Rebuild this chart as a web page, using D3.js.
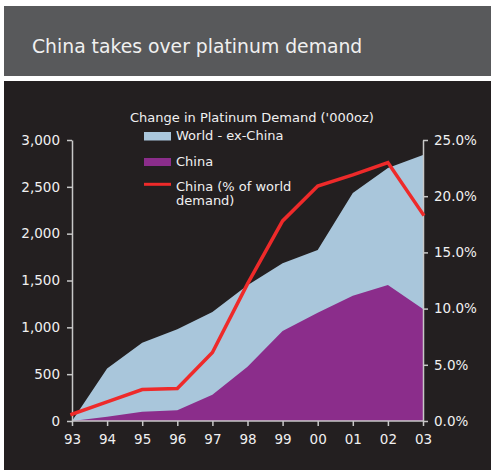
<!DOCTYPE html>
<html>
<head>
<meta charset="utf-8">
<script src="https://cdn.jsdelivr.net/npm/d3@7"></script>
<style>
  html, body { margin: 0; padding: 0; background: #ffffff; }
  svg { display: block; font-family: "DejaVu Sans", Verdana, sans-serif; }
</style>
</head>
<body>
<svg id="chart" width="491" height="470"></svg>
<script>
// Years on the x axis
const years = ["93", "94", "95", "96", "97", "98", "99", "00", "01", "02", "03"];
// Cumulative change in world platinum demand ('000oz), top of the light blue area
const worldTotal = [0, 560, 835, 980, 1165, 1450, 1685, 1825, 2435, 2700, 2840];
// Cumulative change in Chinese demand ('000oz)
const chinaDemand = [0, 45, 100, 115, 280, 580, 962, 1155, 1338, 1452, 1196];
// China's share of world demand (%)
const chinaShare = [0.6, 1.7, 2.8, 2.9, 6.1, 12.2, 17.8, 20.9, 21.9, 23.0, 18.4];

const leftTicks = [0, 500, 1000, 1500, 2000, 2500, 3000];
const rightTicks = [0, 5, 10, 15, 20, 25];

const colors = {
  header: "#58595b",
  panel: "#231f20",
  world: "#a9c6db",
  china: "#8b2d8b",
  share: "#ee2a2a",
  axis: "#c8c8c8",
  text: "#f0f0f0"
};

const fontFamily = "DejaVu Sans, Verdana, sans-serif";
const svg = d3.select("#chart");

// Title banner
svg.append("rect").attr("x", 4).attr("y", 6).attr("width", 487).attr("height", 70)
  .attr("fill", colors.header);
svg.append("text").attr("x", 32).attr("y", 53)
  .attr("fill", colors.text).attr("font-size", 18.8)
  .text("China takes over platinum demand");

// Chart panel
svg.append("rect").attr("x", 4).attr("y", 81).attr("width", 487).attr("height", 389)
  .attr("fill", colors.panel);

const plot = { left: 72, right: 423, top: 140, bottom: 421 };

const x = d3.scalePoint().domain(years).range([plot.left, plot.right]);
const y = d3.scaleLinear().domain([0, 3000]).range([plot.bottom, plot.top]);
const yPct = d3.scaleLinear().domain([0, 25]).range([plot.bottom, plot.top]);

// Areas: world total first, China drawn over it
const demandArea = d3.area()
  .x((d, i) => x(years[i]))
  .y0(y(0))
  .y1(d => y(d));
svg.append("path").datum(worldTotal)
  .attr("d", demandArea).attr("fill", colors.world);
svg.append("path").datum(chinaDemand)
  .attr("d", demandArea).attr("fill", colors.china);

// Axes
function styleAxis(g) {
  g.select(".domain").attr("stroke", colors.axis).attr("stroke-width", 1.5);
  g.selectAll(".tick line").attr("stroke", colors.axis).attr("stroke-width", 1.5);
  g.selectAll(".tick text").attr("fill", colors.text)
    .attr("font-size", 13.5).attr("font-family", fontFamily);
}

svg.append("g")
  .attr("transform", `translate(${plot.left},0)`)
  .call(d3.axisLeft(y).tickValues(leftTicks).tickSize(5).tickPadding(7)
    .tickSizeOuter(0).tickFormat(d3.format(",")))
  .call(styleAxis);

svg.append("g")
  .attr("transform", `translate(${plot.right},0)`)
  .call(d3.axisRight(yPct).tickValues(rightTicks).tickSize(5).tickPadding(6)
    .tickSizeOuter(0).tickFormat(d => d3.format(".1f")(d) + "%"))
  .call(styleAxis);

svg.append("g")
  .attr("transform", `translate(0,${plot.bottom})`)
  .call(d3.axisBottom(x).tickSize(5).tickPadding(8).tickSizeOuter(0))
  .call(styleAxis)
  .call(g => g.select(".domain").attr("d", `M${plot.left},0H${plot.right}`));

// China share line
const shareLine = d3.line()
  .x((d, i) => x(years[i]))
  .y(d => yPct(d));
svg.append("path").datum(chinaShare)
  .attr("d", shareLine)
  .attr("fill", "none")
  .attr("stroke", colors.share)
  .attr("stroke-width", 3.5)
  .attr("stroke-linejoin", "miter")
  .attr("stroke-linecap", "square");

// Legend
const legend = svg.append("g").attr("font-size", 13).attr("fill", colors.text);
legend.append("text").attr("x", 130).attr("y", 122)
  .text("Change in Platinum Demand ('000oz)");

legend.append("rect").attr("x", 144).attr("y", 132).attr("width", 27).attr("height", 8.5)
  .attr("fill", colors.world);
legend.append("text").attr("x", 176).attr("y", 140).text("World - ex-China");

legend.append("rect").attr("x", 144).attr("y", 158).attr("width", 27).attr("height", 8)
  .attr("fill", colors.china);
legend.append("text").attr("x", 176).attr("y", 166).text("China");

legend.append("line").attr("x1", 144).attr("x2", 171).attr("y1", 184.3).attr("y2", 184.3)
  .attr("stroke", colors.share).attr("stroke-width", 3);
legend.append("text").attr("x", 176).attr("y", 191).text("China (% of world");
legend.append("text").attr("x", 176).attr("y", 205).text("demand)");
</script>
</body>
</html>
